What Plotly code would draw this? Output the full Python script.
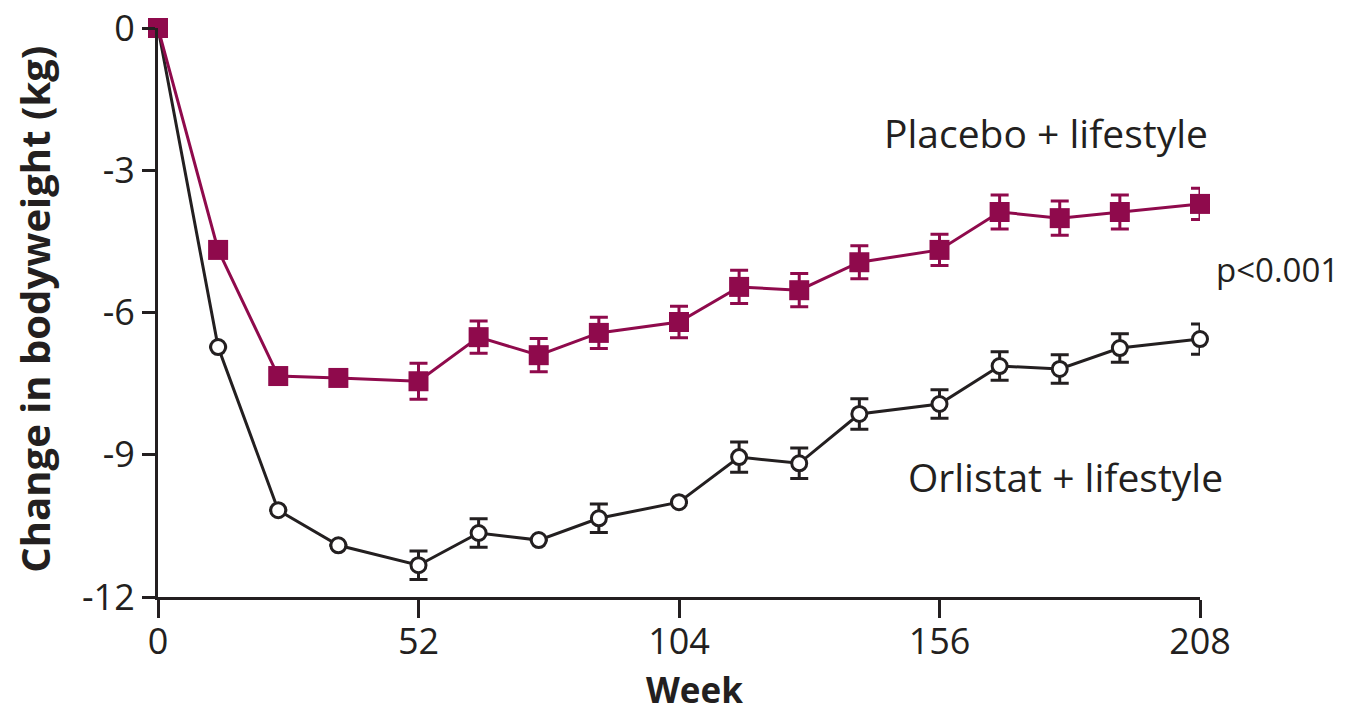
import plotly.graph_objects as go

weeks = [0, 12, 24, 36, 52, 64, 76, 88, 104, 116, 128, 140, 156, 168, 180, 192, 208]
placebo = [0, -4.68, -7.34, -7.38, -7.45, -6.52, -6.90, -6.43, -6.20, -5.46, -5.53, -4.94, -4.68, -3.88, -4.01, -3.88, -3.71]
placebo_err = [0, 0, 0, 0, 0.38, 0.34, 0.35, 0.33, 0.33, 0.35, 0.35, 0.35, 0.33, 0.36, 0.36, 0.36, 0.33]
orlistat = [0, -6.73, -10.17, -10.91, -11.33, -10.65, -10.80, -10.34, -10.00, -9.05, -9.18, -8.14, -7.93, -7.13, -7.19, -6.75, -6.56]
orlistat_err = [0, 0, 0, 0, 0.30, 0.30, 0.0, 0.30, 0.0, 0.32, 0.32, 0.32, 0.30, 0.30, 0.30, 0.30, 0.32]

x_ticks = [0, 52, 104, 156, 208]
y_ticks = [0, -3, -6, -9, -12]

PURPLE = "#8f0a4c"
BLACK = "#231f20"
FONT = "Open Sans"

fig = go.Figure()
fig.add_trace(go.Scatter(
    x=weeks, y=orlistat, mode="lines+markers",
    line=dict(color=BLACK, width=3),
    marker=dict(symbol="circle", size=15, color="white", line=dict(color=BLACK, width=3)),
    error_y=dict(type="data", array=orlistat_err, visible=True, color=BLACK, thickness=3, width=9),
    cliponaxis=False, showlegend=False,
))
fig.add_trace(go.Scatter(
    x=weeks, y=placebo, mode="lines+markers",
    line=dict(color=PURPLE, width=3),
    marker=dict(symbol="square", size=20, color=PURPLE),
    error_y=dict(type="data", array=placebo_err, visible=True, color=PURPLE, thickness=3, width=9),
    cliponaxis=False, showlegend=False,
))

fig.add_annotation(x=208, y=-2.2, xref="x", yref="y", text="Placebo + lifestyle", showarrow=False,
                   xanchor="right", yanchor="middle", xshift=10,
                   font=dict(family=FONT, size=39, color=BLACK))
fig.add_annotation(x=208, y=-9.45, xref="x", yref="y", text="Orlistat + lifestyle", showarrow=False,
                   xanchor="right", yanchor="middle", xshift=25,
                   font=dict(family=FONT, size=39, color=BLACK))
fig.add_annotation(x=208, y=-5.1, xref="x", yref="y", text="p<0.001", showarrow=False,
                   xanchor="left", yanchor="middle", xshift=14,
                   font=dict(family=FONT, size=33, color=BLACK))
# axis titles
fig.add_annotation(x=-0.118, y=0.505, xref="paper", yref="paper", text="<b>Change in bodyweight (kg)</b>",
                   showarrow=False, textangle=-90, xanchor="center", yanchor="middle",
                   font=dict(family=FONT, size=40, color=BLACK))
fig.add_annotation(x=0.5144, y=-0.163, xref="paper", yref="paper", text="<b>Week</b>",
                   showarrow=False, xanchor="center", yanchor="middle",
                   font=dict(family=FONT, size=35, color=BLACK))

fig.update_layout(
    width=1360, height=707,
    margin=dict(l=150, r=168, t=20, b=118, autoexpand=False),
    paper_bgcolor="white", plot_bgcolor="white",
    font=dict(family=FONT, color=BLACK),
    xaxis=dict(range=[0, 208], tickvals=x_ticks, ticktext=[str(v) for v in x_ticks],
               showgrid=False, zeroline=False, showline=True, linecolor=BLACK, linewidth=3,
               ticks="outside", ticklen=18, tickwidth=3, tickcolor=BLACK, automargin=False,
               ticklabelstandoff=-7,
               tickfont=dict(size=36, family=FONT), ticklabeloverflow="allow"),
    yaxis=dict(range=[-12, 0], tickvals=y_ticks, ticktext=[str(v) for v in y_ticks],
               showgrid=False, zeroline=False, showline=True, linecolor=BLACK, linewidth=3,
               ticks="outside", ticklen=13, tickwidth=3, tickcolor=BLACK, automargin=False,
               tickfont=dict(size=36, family=FONT), ticklabeloverflow="allow"),
)

fig.write_html("out.html", config={"displayModeBar": False})
